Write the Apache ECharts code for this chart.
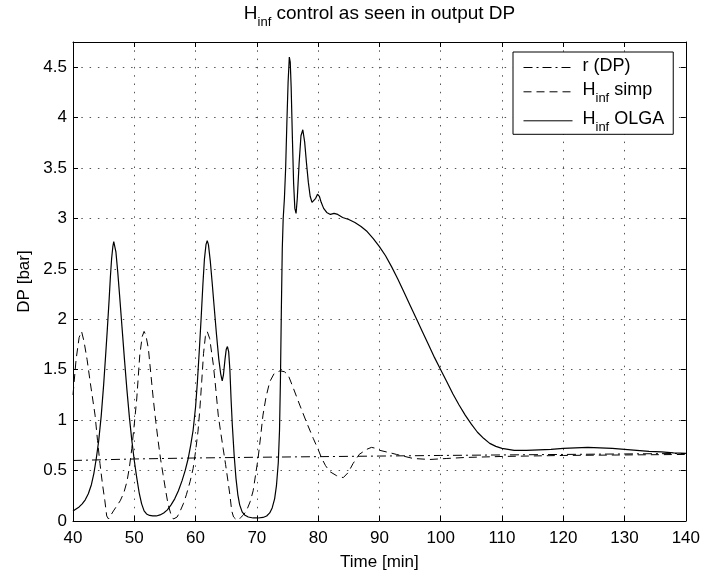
<!DOCTYPE html>
<html><head><meta charset="utf-8">
<script src="https://cdn.jsdelivr.net/npm/echarts@6/dist/echarts.min.js"></script>
<style>html,body{margin:0;padding:0;background:#fff}#c{width:703px;height:576px}</style>
</head><body><div id="c"></div>
<script>
// ---- data ----
const rTime = [40,50,60,70,80,90,100,110,120,130,140];
const rVal  = [0.6,0.615,0.625,0.632,0.638,0.644,0.65,0.655,0.66,0.665,0.67];

const simpTime = [40,40.5,41,41.4,41.8,42.3,42.8,43.6,44.0,44.4,44.8,45.2,45.5,45.8,46.6,47.7,48.3,48.8,49.2,49.6,50.0,50.4,50.9,51.3,51.6,51.9,52.3,52.7,53.1,53.5,53.9,54.3,54.7,55.1,55.5,56.0,56.4,57.0,57.5,58.0,58.5,59.1,59.6,60.0,60.4,60.7,61.0,61.3,61.6,61.9,62.3,62.9,63.3,63.7,64.1,64.5,64.9,65.3,65.6,65.9,66.2,66.7,67.3,67.8,68.3,68.9,69.4,69.8,70.2,70.6,71.0,71.5,72.1,72.8,73.8,74.5,75.1,76.0,77.0,78.1,79.2,80.0,80.6,81.2,81.9,83.0,84.1,84.9,85.7,86.7,87.9,88.7,89.5,90.1,91.5,92.8,95.5,98.2,101,104,110,120,130,140];
const simpVal  = [1.25,1.6,1.82,1.88,1.78,1.6,1.38,1.05,0.8,0.57,0.37,0.2,0.05,0.02,0.1,0.2,0.28,0.39,0.53,0.72,0.96,1.21,1.65,1.83,1.88,1.84,1.71,1.46,1.21,0.99,0.79,0.61,0.46,0.31,0.17,0.06,0.02,0.04,0.1,0.17,0.26,0.39,0.52,0.69,0.89,1.11,1.38,1.66,1.83,1.88,1.81,1.55,1.31,1.05,0.88,0.72,0.56,0.39,0.26,0.1,0.04,0.01,0.03,0.06,0.1,0.19,0.3,0.46,0.62,0.83,1.05,1.23,1.38,1.46,1.49,1.48,1.45,1.31,1.15,0.98,0.82,0.71,0.62,0.55,0.49,0.45,0.43,0.48,0.57,0.66,0.71,0.73,0.72,0.7,0.68,0.66,0.62,0.61,0.62,0.63,0.64,0.65,0.655,0.66];

const olgaTime = [40,40.5,41,41.5,42,42.5,43,43.4,43.8,44.2,44.6,45.0,45.3,45.6,45.9,46.1,46.3,46.5,46.65,46.8,47.0,47.3,47.6,48.0,48.4,48.8,49.2,49.6,50.0,50.4,50.8,51.2,51.6,52.0,52.5,53.0,53.6,54.2,54.8,55.4,56.0,56.6,57.2,57.8,58.3,58.8,59.2,59.6,60.0,60.3,60.6,60.9,61.2,61.45,61.7,61.9,62.1,62.4,62.7,63.0,63.4,63.8,64.1,64.35,64.55,64.8,65.0,65.2,65.4,65.6,65.8,66.0,66.3,66.6,66.9,67.2,67.6,68.0,68.6,69.4,70.2,71.0,71.6,72.1,72.5,72.9,73.2,73.5,73.7,73.85,74.0,74.15,74.3,74.5,74.7,74.9,75.1,75.3,75.45,75.6,75.8,76.0,76.2,76.4,76.6,76.9,77.2,77.5,77.8,78.1,78.4,78.7,79.0,79.3,79.6,79.9,80.2,80.5,80.9,81.4,82.0,82.6,83.2,84,85,86,87,88,89,90,91,92,93,94,95,96,97,98,99,100,101,102,103,104,105,106,107,108,109,110,111,112,114,116,118,120,122,124,126,128,130,132,134,136,138,140];
const olgaVal  = [0.1,0.12,0.14,0.17,0.21,0.27,0.36,0.47,0.62,0.8,1.04,1.35,1.62,1.9,2.2,2.42,2.6,2.72,2.77,2.76,2.67,2.47,2.24,1.92,1.6,1.3,1.03,0.8,0.6,0.43,0.28,0.17,0.1,0.07,0.055,0.05,0.05,0.06,0.08,0.11,0.16,0.22,0.3,0.4,0.5,0.62,0.75,0.9,1.13,1.38,1.68,2.0,2.35,2.6,2.74,2.78,2.74,2.58,2.37,2.15,1.86,1.6,1.46,1.39,1.45,1.6,1.7,1.73,1.68,1.5,1.2,0.95,0.65,0.42,0.26,0.16,0.09,0.06,0.04,0.03,0.03,0.035,0.05,0.08,0.13,0.22,0.35,0.58,0.9,1.4,2.1,2.7,3.0,3.2,3.5,3.95,4.35,4.6,4.55,4.3,3.8,3.35,3.1,3.05,3.2,3.55,3.82,3.88,3.76,3.55,3.36,3.22,3.16,3.16,3.2,3.24,3.22,3.16,3.1,3.06,3.04,3.05,3.04,3.01,2.99,2.96,2.92,2.87,2.8,2.72,2.63,2.52,2.4,2.27,2.14,2.01,1.88,1.75,1.62,1.5,1.38,1.26,1.15,1.05,0.96,0.88,0.82,0.77,0.74,0.72,0.71,0.7,0.7,0.705,0.71,0.72,0.725,0.73,0.725,0.72,0.71,0.7,0.69,0.685,0.675,0.67];

const xMin = 40, xMax = 140, xStep = 10;
const yMin = 0, yMax = 4.75, yStep = 0.5;
const seriesNames = ['r (DP)', 'Hinf simp', 'Hinf OLGA'];

// ---- chart ----
const FONT = 'Liberation Sans, Arial, sans-serif';
const zip = (a, b) => a.map((v, i) => [v, b[i]]);
const mkRich = (big, small, drop) => ({
  h: {fontSize: big, lineHeight: big + 3, verticalAlign: 'top', fontFamily: FONT, fontWeight: 'normal', color: '#000'},
  s: {fontSize: small, lineHeight: small, padding: [drop, 0, 0, 0], verticalAlign: 'top', fontFamily: FONT, fontWeight: 'normal', color: '#000'}
});
const chart = echarts.init(document.getElementById('c'), null, {renderer: 'canvas'});
const axisCommon = {
  axisLine: {onZero: false, lineStyle: {color: '#000', width: 1}},
  axisTick: {inside: true, length: 5, lineStyle: {color: '#000'}},
};
const gridLine = {show: true, lineStyle: {color: '#555', width: 1, type: [1.5, 6.8]}};
const tickFont = {fontSize: 17, color: '#000', fontFamily: FONT};
chart.setOption({
  animation: false,
  backgroundColor: '#fff',
  title: {
    text: '{h|H}{s|inf}{h| control as seen in output DP}',
    left: 379.5, top: 4, padding: 0, textAlign: 'center',
    textStyle: {fontWeight: 'normal', rich: mkRich(19, 13, 12)}
  },
  legend: {
    orient: 'vertical', left: 513, top: 52,
    padding: [5, 9, 0, 10], itemWidth: 49, itemHeight: 22, itemGap: 5,
    borderColor: '#000', borderWidth: 1, backgroundColor: '#fff',
    itemStyle: {opacity: 0},
    lineStyle: {width: 1},
    data: seriesNames,
    formatter: n => n === 'r (DP)' ? '{h|r (DP)}' : '{h|H}{s|inf}{h|' + n.slice(4) + '}',
    textStyle: {rich: mkRich(18, 13, 11), padding: [0, 0, 0, 5]}
  },
  grid: {left: 73, right: 17, top: 42, bottom: 52},
  xAxis: [
    Object.assign({type: 'value', min: xMin, max: xMax, interval: xStep, position: 'bottom',
      name: 'Time [min]', nameLocation: 'middle', nameGap: 33,
      nameTextStyle: tickFont,
      axisLabel: Object.assign({margin: 9}, tickFont),
      splitLine: gridLine}, axisCommon),
    Object.assign({type: 'value', min: xMin, max: xMax, interval: xStep, position: 'top',
      axisLabel: {show: false}, splitLine: {show: false}}, axisCommon)
  ],
  yAxis: [
    Object.assign({type: 'value', min: yMin, max: yMax, interval: yStep, position: 'left',
      name: 'DP [bar]', nameLocation: 'middle', nameGap: 40, nameRotate: 90,
      nameTextStyle: tickFont,
      axisLabel: Object.assign({margin: 6, showMaxLabel: false}, tickFont),
      splitLine: gridLine}, axisCommon),
    Object.assign({type: 'value', min: yMin, max: yMax, interval: yStep, position: 'right',
      axisLabel: {show: false}, splitLine: {show: false}}, axisCommon)
  ],
  series: [
    {name: seriesNames[0], type: 'line', data: zip(rTime, rVal), symbol: 'none', showSymbol: false,
     lineStyle: {color: '#000', width: 1, type: [9, 4, 2, 4]}, itemStyle: {color: '#000'}},
    {name: seriesNames[1], type: 'line', data: zip(simpTime, simpVal), symbol: 'none', showSymbol: false,
     lineStyle: {color: '#000', width: 1, type: [8, 5]}, itemStyle: {color: '#000'}},
    {name: seriesNames[2], type: 'line', data: zip(olgaTime, olgaVal), symbol: 'none', showSymbol: false,
     lineStyle: {color: '#000', width: 1.2, type: 'solid'}, itemStyle: {color: '#000'}}
  ]
});
</script></body></html>
